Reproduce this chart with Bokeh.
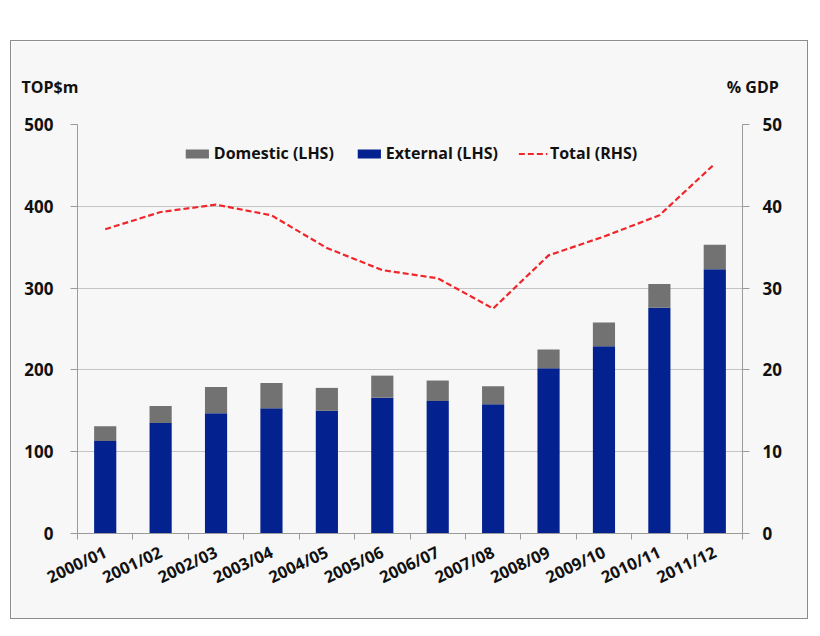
import numpy as np
from bokeh.plotting import figure
from bokeh.models import (Range1d, LinearAxis, FixedTicker, Legend, LegendItem,
                          Title, ColumnDataSource)
from bokeh.embed import file_html
from bokeh.resources import INLINE

categories = ["2000/01", "2001/02", "2002/03", "2003/04", "2004/05", "2005/06",
              "2006/07", "2007/08", "2008/09", "2009/10", "2010/11", "2011/12"]
external = [113, 135, 147, 153, 150, 166, 162, 158, 202, 229, 276, 323]
domestic = [18, 21, 32, 31, 28, 27, 25, 22, 23, 29, 29, 30]
total_gdp = [37.2, 39.3, 40.2, 38.9, 34.9, 32.2, 31.2, 27.5, 34.0, 36.3, 38.9, 45.2]
left_ticks = [0, 100, 200, 300, 400, 500]
right_ticks = [0, 10, 20, 30, 40, 50]
left_unit = "TOP$m"
right_unit = "% GDP"

FONT = "Open Sans"
BG = "#f7f7f7"
GREY = "#727272"
NAVY = "#04228f"
RED = "#f0262b"
TXT = "#111111"

n = len(categories)
centers = list(np.arange(n) + 0.5)
src = ColumnDataSource(dict(x=centers, external=external, domestic=domestic,
                            total=total_gdp))

p = figure(width=798, height=579, x_range=Range1d(0, n), y_range=Range1d(0, 500),
           output_backend="svg", toolbar_location=None,
           min_border_left=66, min_border_right=67, min_border_top=83,
           min_border_bottom=87,
           background_fill_color=BG, border_fill_color=BG,
           outline_line_color=None, margin=(40, 0, 0, 10),
           styles={"border": "1.5px solid #8c8c8c"})
p.extra_y_ranges = {"right": Range1d(0, 50)}

r_bars = p.vbar_stack(["external", "domestic"], x="x", width=0.4, source=src,
                      color=[NAVY, GREY], line_color=None)
r_line = p.line("x", "total", source=src, y_range_name="right", color=RED,
                line_width=2.2, line_dash="6 3")

# axes
p.xaxis.ticker = FixedTicker(ticks=centers, minor_ticks=list(range(n + 1)))
p.xaxis.major_label_overrides = {c: lab for c, lab in zip(centers, categories)}
p.xaxis.minor_tick_in = 0
p.xaxis.minor_tick_out = 6
p.xaxis.major_label_orientation = 0.44
p.xaxis.major_label_standoff = 11

p.yaxis.ticker = FixedTicker(ticks=left_ticks, minor_ticks=[])
p.yaxis.major_tick_in = 0
p.yaxis.major_tick_out = 7
p.yaxis.major_label_standoff = 17

ra = LinearAxis(y_range_name="right", ticker=FixedTicker(ticks=right_ticks, minor_ticks=[]))
ra.major_tick_in = 0
ra.major_tick_out = 7
ra.major_label_standoff = 13
p.add_layout(ra, "right")

for ax in [p.xaxis[0], p.yaxis[0], ra]:
    ax.axis_line_color = "#9a9a9a"
    ax.major_tick_line_color = "#9a9a9a"
    ax.minor_tick_line_color = "#9a9a9a"
    ax.major_label_text_font = FONT
    ax.major_label_text_font_style = "bold"
    ax.major_label_text_color = TXT
    ax.major_label_text_font_size = "17px"
p.xaxis.major_tick_line_color = None
p.xaxis.major_label_text_font_size = "16.5px"

p.xgrid.grid_line_color = None
p.ygrid.ticker = FixedTicker(ticks=left_ticks)
p.ygrid.grid_line_color = "#c4c4c4"
p.ygrid.grid_line_width = 1.2

# legend
legend = Legend(items=[
    LegendItem(label="Domestic (LHS)", renderers=[r_bars[1]]),
    LegendItem(label="External (LHS)", renderers=[r_bars[0]]),
    LegendItem(label="Total (RHS)", renderers=[r_line]),
], orientation="horizontal", location="top_center",
   background_fill_alpha=0, border_line_color=None,
   label_text_font=FONT, label_text_font_style="bold", label_text_font_size="16px",
   label_text_color=TXT, glyph_width=29, glyph_height=11, spacing=20,
   label_standoff=3, margin=18, padding=0)
p.add_layout(legend, "center")

# small spacer between the frame and the unit header
p.add_layout(Title(text="\u00a0", text_font_size="9px", text_color=BG), "above")

# unit labels (one header line, left and right units separated by no-break spaces)
header = Title(text=left_unit + "\u00a0" * 156 + right_unit, align="left", offset=-56,
               text_font=FONT, text_font_style="bold", text_font_size="16px",
               text_color=TXT)
p.add_layout(header, "above")

open("out.html", "w").write(file_html(p, INLINE))
